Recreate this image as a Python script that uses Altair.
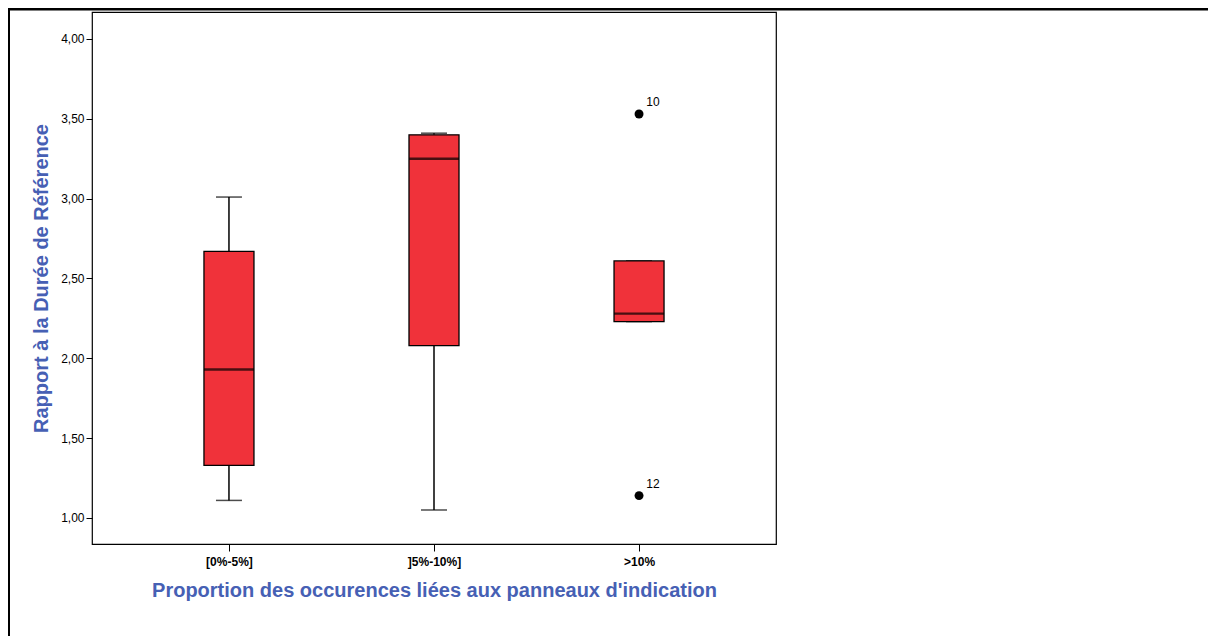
import altair as alt
import pandas as pd

categories = ["[0%-5%]", "]5%-10%]", ">10%"]
whisker_low = [1.11, 1.05, 2.23]
q1 = [1.33, 2.08, 2.23]
median = [1.93, 3.25, 2.28]
q3 = [2.67, 3.40, 2.61]
whisker_high = [3.01, 3.41, 2.61]

outlier_cat = [">10%", ">10%"]
outlier_val = [3.53, 1.14]
outlier_lbl = ["10", "12"]

y_ticks = [1.0, 1.5, 2.0, 2.5, 3.0, 3.5, 4.0]

FONT = "Liberation Sans"
BLUE = "#4660b4"
RED = "#f0323a"

box_df = pd.DataFrame({
    "cat": categories, "wlo": whisker_low, "q1": q1, "med": median,
    "q3": q3, "whi": whisker_high,
})
out_df = pd.DataFrame({"cat": outlier_cat, "val": outlier_val, "lbl": outlier_lbl})

xscale = alt.Scale(type="point", domain=categories, padding=0.668)
yscale = alt.Scale(domain=[0.837, 4.169], nice=False, zero=False)

x_enc = alt.X("cat:N", scale=xscale, sort=categories,
              axis=alt.Axis(title="Proportion des occurences liées aux panneaux d'indication",
                            labelAngle=0, labelFontWeight="bold", labelFontSize=12,
                            labelPadding=5, tickSize=7, titlePadding=13))
y_axis = alt.Axis(title="Rapport à la Durée de Référence", values=y_ticks,
                  labelExpr="replace(format(datum.value, '.2f'), '.', ',')",
                  labelFontSize=12, tickSize=6, labelPadding=2, titlePadding=9)

base = alt.Chart(box_df)

whisk_lo = base.mark_rule(color="black", strokeWidth=1.5).encode(
    x=x_enc, y=alt.Y("wlo:Q", scale=yscale, axis=y_axis), y2="q1:Q")
whisk_hi = base.mark_rule(color="black", strokeWidth=1.5).encode(
    x=x_enc, y=alt.Y("q3:Q", scale=yscale), y2="whi:Q")
cap_lo = base.mark_tick(color="black", size=26, thickness=1.5).encode(
    x=x_enc, y=alt.Y("wlo:Q", scale=yscale))
cap_hi = base.mark_tick(color="black", size=26, thickness=1.5).encode(
    x=x_enc, y=alt.Y("whi:Q", scale=yscale))
box = base.mark_bar(size=50, fill=RED, stroke="black", strokeWidth=1.3).encode(
    x=x_enc, y=alt.Y("q1:Q", scale=yscale), y2="q3:Q")
med = base.mark_tick(color="black", size=50, thickness=2.4).encode(
    x=x_enc, y=alt.Y("med:Q", scale=yscale))

outs = alt.Chart(out_df).mark_point(filled=True, color="black", size=80, opacity=1).encode(
    x=x_enc, y=alt.Y("val:Q", scale=yscale))
out_txt = alt.Chart(out_df).mark_text(dx=14, dy=-12, fontSize=12, font=FONT, color="black").encode(
    x=x_enc, y=alt.Y("val:Q", scale=yscale), text="lbl:N")

one = pd.DataFrame({"k": [0]})
top_line = alt.Chart(one).mark_rule(color="black", strokeWidth=3).encode(
    x=alt.value(-84), x2=alt.value(1116), y=alt.value(-3))
left_line = alt.Chart(one).mark_rule(color="black", strokeWidth=2).encode(
    x=alt.value(-83), y=alt.value(-4), y2=alt.value(626))

chart = alt.layer(
    whisk_lo, whisk_hi, cap_lo, cap_hi, box, med, outs, out_txt, top_line, left_line
).properties(
    width=684, height=532,
    background="white",
    autosize=alt.AutoSizeParams(type="none"),
    padding={"left": 84, "top": 4, "right": 432, "bottom": 92},
).configure_view(
    stroke="black", strokeWidth=1.2
).configure_axis(
    grid=False, domain=False, tickColor="black", labelColor="black",
    labelFont=FONT, titleFont=FONT, titleColor=BLUE, titleFontSize=20,
    titleFontWeight="bold",
)

chart.save("out.html", embed_options={"renderer": "svg", "actions": False})
